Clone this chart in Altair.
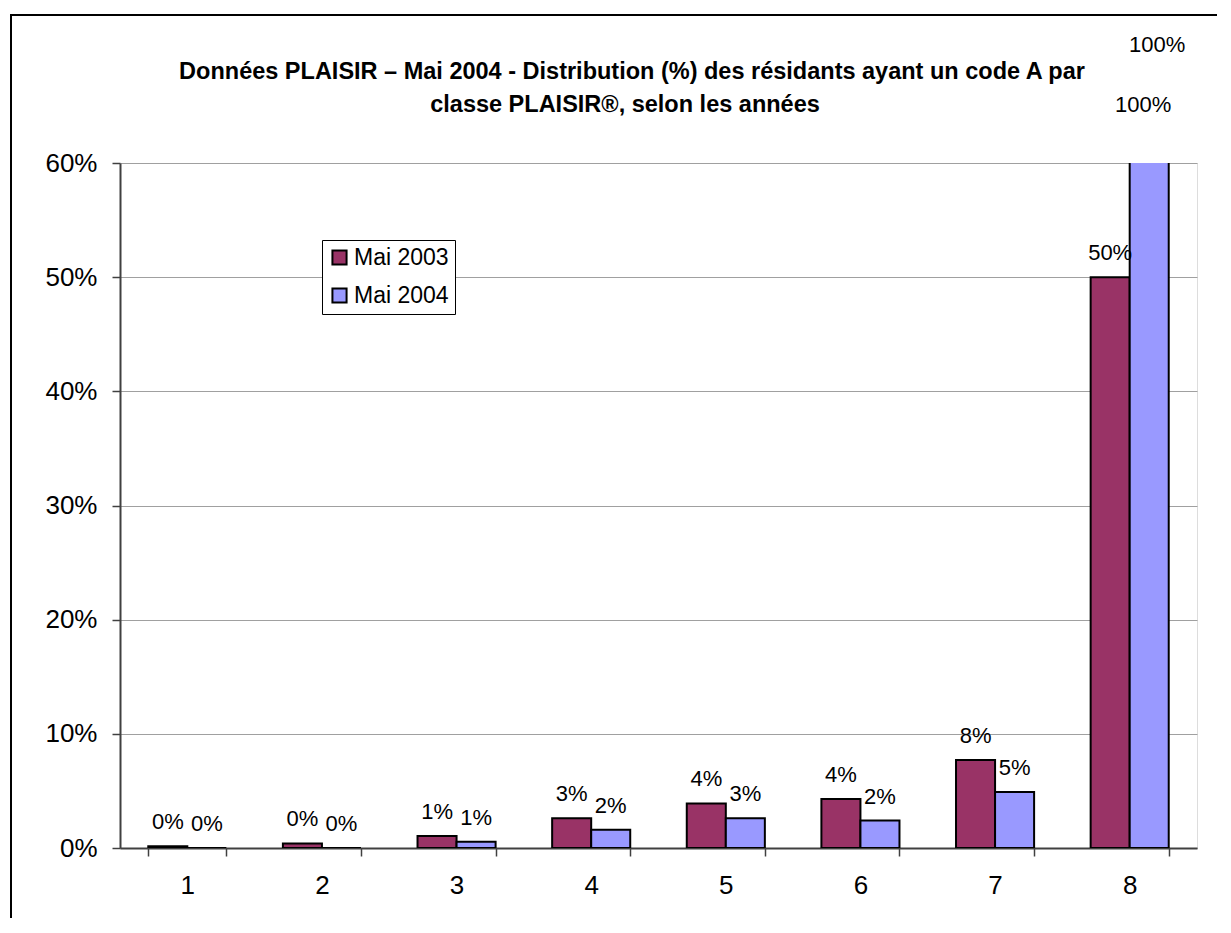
import altair as alt
import pandas as pd

classes = ["1", "2", "3", "4", "5", "6", "7", "8"]
series_names = ["Mai 2003", "Mai 2004"]
mai_2003 = [0.0015, 0.004, 0.0105, 0.026, 0.039, 0.043, 0.077, 0.50]
mai_2004 = [0.0, 0.0, 0.0055, 0.016, 0.026, 0.024, 0.049, 1.00]
colors = ["#993366", "#9999FF"]
y_ticks = [0, 0.1, 0.2, 0.3, 0.4, 0.5, 0.6]
title_lines = [
    "Données PLAISIR – Mai 2004 -  Distribution (%) des résidants ayant un code A par",
    "classe PLAISIR®, selon les années",
]
# the two stray "100%" labels Excel drew above the plot (estimated heights)
overflow_labels = ["100%", "100%"]
overflow_y = [0.703, 0.651]

FONT = "Liberation Sans"

rows = []
for i, c in enumerate(classes):
    rows.append({"classe": c, "serie": series_names[0], "value": mai_2003[i]})
    rows.append({"classe": c, "serie": series_names[1], "value": mai_2004[i]})
df = pd.DataFrame(rows)

ovf = pd.DataFrame({
    "classe": ["8", "8"],
    "serie": ["Mai 2004", "Mai 2004"],
    "y": overflow_y,
    "label": overflow_labels,
    "idx": [0, 1],
})

x_enc = alt.X("classe:N", sort=classes, title=None,
              scale=alt.Scale(paddingInner=0.42, paddingOuter=0.21),
              axis=alt.Axis(labelAngle=0, labelFontSize=26, labelFont=FONT, labelColor="black",
                            tickBand="extent", tickSize=8, tickColor="#404040", tickWidth=1.5,
                            domainColor="#404040", domainWidth=2, labelPadding=16, grid=False))
xoff = alt.XOffset("serie:N", sort=series_names)
y_scale = alt.Scale(domain=[0, 0.6], nice=False)

bars = alt.Chart(df).mark_bar(stroke="black", strokeWidth=2, clip=True).encode(
    x=x_enc,
    xOffset=xoff,
    y=alt.Y("value:Q", scale=y_scale, title=None,
            axis=alt.Axis(values=y_ticks, format=".0%", labelFontSize=26, labelFont=FONT,
                          labelColor="black", tickSize=8, tickColor="#404040", tickWidth=1.5,
                          domainColor="#404040", domainWidth=2, labelPadding=15,
                          grid=True, gridColor="#a0a0a0", gridWidth=1)),
    color=alt.Color("serie:N", sort=series_names,
                    scale=alt.Scale(domain=series_names, range=colors),
                    legend=alt.Legend(title=None, orient="none", legendX=202, legendY=77,
                                      labelFontSize=23, labelFont=FONT, labelColor="black",
                                      symbolType="square", symbolSize=200,
                                      symbolStrokeColor="black", symbolStrokeWidth=2,
                                      strokeColor="black", fillColor="white",
                                      padding=6, rowPadding=14, labelOffset=3)),
)

labels = alt.Chart(df).transform_filter(alt.datum.value <= 0.6).mark_text(
    fontSize=22, font=FONT, color="black", dy=-24, baseline="middle"
).encode(
    x=alt.X("classe:N", sort=classes),
    xOffset=xoff,
    y=alt.Y("value:Q", scale=y_scale),
    text=alt.Text("value:Q", format=".0%"),
)

ovf_top = alt.Chart(ovf).transform_filter(alt.datum.idx == 0).mark_text(
    fontSize=22, font=FONT, color="black", baseline="middle", dx=8, clip=False
).encode(
    x=alt.X("classe:N", sort=classes), xOffset=xoff,
    y=alt.Y("y:Q", scale=y_scale), text="label:N",
)
ovf_bot = alt.Chart(ovf).transform_filter(alt.datum.idx == 1).mark_text(
    fontSize=22, font=FONT, color="black", baseline="middle", dx=-6, clip=False
).encode(
    x=alt.X("classe:N", sort=classes), xOffset=xoff,
    y=alt.Y("y:Q", scale=y_scale), text="label:N",
)

title1 = alt.Chart(pd.DataFrame({"t": [title_lines[0]]})).mark_text(
    fontSize=23.5, fontWeight="bold", font=FONT, color="black", baseline="middle", align="center", clip=False
).encode(x=alt.value(512), y=alt.value(-91), text="t:N")
title2 = alt.Chart(pd.DataFrame({"t": [title_lines[1]]})).mark_text(
    fontSize=23.5, fontWeight="bold", font=FONT, color="black", baseline="middle", align="center", clip=False
).encode(x=alt.value(505), y=alt.value(-58), text="t:N")

frame_left = alt.Chart(pd.DataFrame({"a": [0]})).mark_rule(color="black", strokeWidth=2, clip=False).encode(
    x=alt.value(-109), y=alt.value(-148), y2=alt.value(800))
frame_top = alt.Chart(pd.DataFrame({"a": [0]})).mark_rule(color="black", strokeWidth=2, clip=False).encode(
    x=alt.value(-110), x2=alt.value(1200), y=alt.value(-148))

chart = alt.layer(bars, labels, ovf_top, ovf_bot, title1, title2, frame_left, frame_top).properties(
    width=1077,
    height=685,
    autosize=alt.AutoSizeParams(type="none"),
    padding={"left": 112, "top": 155, "right": 20, "bottom": 70},
).configure_view(stroke="#808080", strokeWidth=2).configure(background="white")

chart.save("out.html", embed_options={"renderer": "svg", "actions": False})
